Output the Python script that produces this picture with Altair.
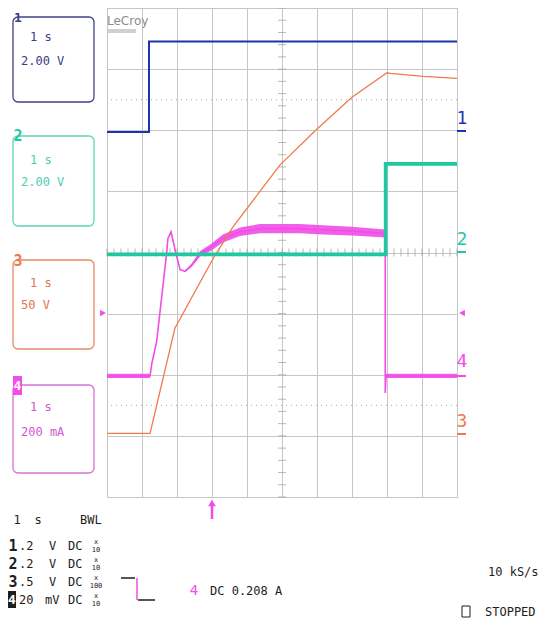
import altair as alt
import pandas as pd

# ---------------- waveform data (time: divisions 0-10, level: divisions 0-8) ----------------
ch1_t = [0, 1.2, 1.2, 10]
ch1_v = [5.97, 5.97, 7.45, 7.45]

ch2_t = [0, 7.96, 7.96, 10]
ch2_v = [3.97, 3.97, 5.45, 5.45]

ch3_t = [0, 1.23, 1.94, 3.04, 3.6, 4.57, 4.94, 6.0, 7.0, 8.0, 8.1, 9.03, 10]
ch3_v = [1.04, 1.04, 2.76, 3.91, 4.42, 5.15, 5.43, 6.02, 6.54, 6.94, 6.93, 6.88, 6.85]

ch4_t = [0, 1.23, 1.28, 1.42, 1.71, 1.74, 1.83, 1.97, 2.09, 2.23, 2.43, 2.66, 2.94,
         3.31, 3.8, 4.37, 5.51, 6.17, 7.0, 7.95, 7.95, 7.97, 10]
ch4_v = [1.98, 1.98, 2.18, 2.55, 4.02, 4.23, 4.34, 3.98, 3.72, 3.69, 3.80, 3.98, 4.07,
         4.23, 4.34, 4.39, 4.39, 4.37, 4.35, 4.31, 1.7, 1.98, 1.98]
ch4_noise = [0.035, 0.035, 0, 0, 0, 0, 0, 0, 0, 0.015, 0.03, 0.045, 0.055,
             0.065, 0.07, 0.075, 0.075, 0.075, 0.07, 0.065, 0, 0.035, 0.035]
ch4_seg = ["a", "a", "-", "-", "-", "-", "-", "-", "-", "b", "b", "b", "b",
           "b", "b", "b", "b", "b", "b", "b", "-", "c", "c"]

# grid
grid_x = list(range(11))
grid_y = list(range(9))
dotted_levels = [1.5, 6.5]
center_ticks_y = [round(i * 0.2, 2) for i in range(41)]
center_ticks_x = [round(i * 0.2, 2) for i in range(51)]

C1, C2, C3, C4 = "#1f32b0", "#1ec8a0", "#f07a4c", "#f04ee6"
B1, B2, B3, B4 = "#40408a", "#5cd4b8", "#e8886a", "#d872d8"
T1, T2, T3, T4 = "#3c3c86", "#4ccdb0", "#e07456", "#d05ad0"
INK = "#1e1e1e"
MONO = "DejaVu Sans Mono"

# page-pixel origin of the plot area
OX, OY = 107, 8

# ---------------- data-space layers ----------------
xs = alt.Scale(domain=[0, 10], nice=False, zero=False)
ys = alt.Scale(domain=[0, 8], nice=False, zero=False)
ax_x = alt.Axis(values=grid_x, grid=True, gridColor="#c6c6c6", gridWidth=1,
                labels=False, ticks=False, domain=False, title="")
ax_y = alt.Axis(values=grid_y, grid=True, gridColor="#c6c6c6", gridWidth=1,
                labels=False, ticks=False, domain=False, title="")


def X(f):
    return alt.X(f, scale=xs, axis=ax_x)


def Y(f):
    return alt.Y(f, scale=ys, axis=ax_y)


grid_df = pd.DataFrame({"t": [0, 10], "v": [0, 8]})
grid_layer = alt.Chart(grid_df).mark_point(opacity=0).encode(x=X("t:Q"), y=Y("v:Q"))

dot_df = pd.DataFrame({"v": dotted_levels})
dots = alt.Chart(dot_df).mark_rule(color="#a8a8a8", strokeDash=[1, 4], strokeWidth=1).encode(y=Y("v:Q"))

tv_df = pd.DataFrame({"t": [5] * len(center_ticks_y), "v": center_ticks_y})
ticks_v = alt.Chart(tv_df).mark_tick(orient="horizontal", size=8, thickness=1, color="#9a9a9a").encode(
    x=X("t:Q"), y=Y("v:Q"))
th_df = pd.DataFrame({"t": center_ticks_x, "v": [4] * len(center_ticks_x)})
ticks_h = alt.Chart(th_df).mark_tick(orient="vertical", size=8, thickness=1, color="#9a9a9a").encode(
    x=X("t:Q"), y=Y("v:Q"))


def trace(ts, vs, color, width):
    df = pd.DataFrame({"t": ts, "v": vs, "i": list(range(len(ts)))})
    return alt.Chart(df).mark_line(color=color, strokeWidth=width, interpolate="linear").encode(
        x=X("t:Q"), y=Y("v:Q"), order=alt.Order("i:Q"))


ch4_df = pd.DataFrame({"t": ch4_t, "v": ch4_v, "n": ch4_noise, "seg": ch4_seg})
band_df = ch4_df[ch4_df["seg"] != "-"].copy()
band_df["lo"] = band_df["v"] - band_df["n"]
band_df["hi"] = band_df["v"] + band_df["n"]
band = alt.Chart(band_df).mark_area(color=C4, opacity=0.9, orient="vertical").encode(
    x=X("t:Q"), y=Y("lo:Q"), y2="hi:Q", detail="seg:N")

data_layers = [grid_layer, dots, ticks_v, ticks_h,
               band, trace(ch4_t, ch4_v, C4, 1.6),
               trace(ch3_t, ch3_v, C3, 1.3),
               trace(ch2_t, ch2_v, C2, 3.6),
               trace(ch1_t, ch1_v, C1, 2.0)]

# ---------------- page decorations (pixel layout) ----------------
boxes = [  # x1, y1, x2, y2, stroke
    (13, 17, 94, 102, B1),
    (13, 136, 94, 226, B2),
    (13, 260, 94, 349, B3),
    (13, 385, 94, 473, B4),
]
box_df = pd.DataFrame(boxes, columns=["x1", "y1", "x2", "y2", "c"])
for a in ["x1", "x2"]:
    box_df[a] = box_df[a] - OX
for a in ["y1", "y2"]:
    box_df[a] = box_df[a] - OY
box_layer = alt.Chart(box_df).mark_rect(fillOpacity=0, cornerRadius=5, strokeWidth=1.3).encode(
    x=alt.X("x1:Q", scale=None), x2="x2:Q", y=alt.Y("y1:Q", scale=None), y2="y2:Q",
    stroke=alt.Stroke("c:N", scale=None))

filled = [  # inverse label blocks
    (13, 376, 22, 395, C4),
    (8, 591, 16, 608, INK),
]
fill_df = pd.DataFrame(filled, columns=["x1", "y1", "x2", "y2", "c"])
for a in ["x1", "x2"]:
    fill_df[a] = fill_df[a] - OX
for a in ["y1", "y2"]:
    fill_df[a] = fill_df[a] - OY
fill_layer = alt.Chart(fill_df).mark_rect(strokeWidth=0).encode(
    x=alt.X("x1:Q", scale=None), x2="x2:Q", y=alt.Y("y1:Q", scale=None), y2="y2:Q",
    color=alt.Color("c:N", scale=None))

square_df = pd.DataFrame({"x1": [462 - OX], "x2": [470 - OX], "y1": [606 - OY], "y2": [617 - OY]})
square_layer = alt.Chart(square_df).mark_rect(fillOpacity=0, stroke=INK, strokeWidth=1).encode(
    x=alt.X("x1:Q", scale=None), x2="x2:Q", y=alt.Y("y1:Q", scale=None), y2="y2:Q")

rules = [  # x1, y1, x2, y2, color, width
    (457, 131, 466, 131, C1, 2),      # ch1 level marker
    (457, 252, 466, 252, C2, 2),      # ch2 level marker
    (457, 376, 466, 376, C4, 2),      # ch4 level marker
    (457, 434, 466, 434, C3, 2),      # ch3 level marker
    (121, 578, 135, 578, INK, 1.5),   # trigger slope symbol
    (137, 578, 137, 600, C4, 1.5),
    (138, 600, 155, 600, INK, 1.5),
    (212, 504, 212, 519, C4, 2.5),    # trigger position arrow shaft
    (108, 30, 136, 30, "#a0a0a0", 1), # logo underline
    (108, 32, 136, 32, "#a0a0a0", 1),
]
rule_df = pd.DataFrame(rules, columns=["x1", "y1", "x2", "y2", "c", "w"])
for a in ["x1", "x2"]:
    rule_df[a] = rule_df[a] - OX
for a in ["y1", "y2"]:
    rule_df[a] = rule_df[a] - OY
rule_layer = alt.Chart(rule_df).mark_rule().encode(
    x=alt.X("x1:Q", scale=None), x2="x2:Q", y=alt.Y("y1:Q", scale=None), y2="y2:Q",
    color=alt.Color("c:N", scale=None), strokeWidth=alt.StrokeWidth("w:Q", scale=None))

tri = [  # x, y, shape, size
    (103, 313, "triangle-right", 45),
    (462, 313, "triangle-left", 45),
    (212, 503, "triangle-up", 60),
]
tri_df = pd.DataFrame(tri, columns=["x", "y", "shape", "s"])
tri_df["x"] = tri_df["x"] - OX
tri_df["y"] = tri_df["y"] - OY
tri_layer = alt.Chart(tri_df).mark_point(filled=True, opacity=1, color=C4).encode(
    x=alt.X("x:Q", scale=None), y=alt.Y("y:Q", scale=None),
    shape=alt.Shape("shape:N", scale=None), size=alt.Size("s:Q", scale=None))

texts = [  # text, x, y, color, size, weight, align, font
    # channel panels
    ("1 s", 30, 37, T1, 12, "normal", "left", MONO),
    ("2.00 V", 21, 61, T1, 12, "normal", "left", MONO),
    ("1 s", 30, 160, T2, 12, "normal", "left", MONO),
    ("2.00 V", 21, 182, T2, 12, "normal", "left", MONO),
    ("1 s", 30, 283, T3, 12, "normal", "left", MONO),
    ("50 V", 21, 305, T3, 12, "normal", "left", MONO),
    ("1 s", 30, 407, T4, 12, "normal", "left", MONO),
    ("200 mA", 21, 432, T4, 12, "normal", "left", MONO),
    ("1", 18, 18, B1, 13, "bold", "center", MONO),
    ("2", 18, 136, C2, 15, "bold", "center", MONO),
    ("3", 18, 261, C3, 15, "bold", "center", MONO),
    ("4", 17.5, 386, "#ffffff", 13, "bold", "center", MONO),
    # right-hand channel markers
    ("1", 462, 119, C1, 18, "normal", "center", MONO),
    ("2", 462, 240, C2, 18, "normal", "center", MONO),
    ("4", 462, 362, C4, 18, "normal", "center", MONO),
    ("3", 462, 422, C3, 18, "normal", "center", MONO),
    # logo
    ("LeCroy", 107, 21, "#8c8c8c", 12, "normal", "left", "DejaVu Sans"),
    # bottom status area
    ("1", 17, 520, INK, 12, "normal", "center", MONO),
    ("s", 38, 520, INK, 12, "normal", "center", MONO),
    ("BWL", 80, 520, INK, 12, "normal", "left", MONO),
    ("1", 13, 546, INK, 15, "bold", "center", MONO),
    ("2", 13, 564, INK, 15, "bold", "center", MONO),
    ("3", 13, 582, INK, 15, "bold", "center", MONO),
    ("4", 12, 600, "#ffffff", 13, "bold", "center", MONO),
    (".2", 19, 546, INK, 12, "normal", "left", MONO),
    (".2", 19, 564, INK, 12, "normal", "left", MONO),
    (".5", 19, 582, INK, 12, "normal", "left", MONO),
    ("20", 19, 600, INK, 12, "normal", "left", MONO),
    ("V", 49, 546, INK, 12, "normal", "left", MONO),
    ("V", 49, 564, INK, 12, "normal", "left", MONO),
    ("V", 49, 582, INK, 12, "normal", "left", MONO),
    ("mV", 45, 600, INK, 12, "normal", "left", MONO),
    ("DC", 68, 546, INK, 12, "normal", "left", MONO),
    ("DC", 68, 564, INK, 12, "normal", "left", MONO),
    ("DC", 68, 582, INK, 12, "normal", "left", MONO),
    ("DC", 68, 600, INK, 12, "normal", "left", MONO),
    ("x", 96, 542, INK, 7, "normal", "center", MONO),
    ("10", 96, 550, INK, 7, "normal", "center", MONO),
    ("x", 96, 560, INK, 7, "normal", "center", MONO),
    ("10", 96, 568, INK, 7, "normal", "center", MONO),
    ("x", 96, 578, INK, 7, "normal", "center", MONO),
    ("100", 96, 586, INK, 7, "normal", "center", MONO),
    ("x", 96, 596, INK, 7, "normal", "center", MONO),
    ("10", 96, 604, INK, 7, "normal", "center", MONO),
    ("4", 194, 591, C4, 14, "normal", "center", MONO),
    ("DC 0.208 A", 210, 591, INK, 12, "normal", "left", MONO),
    ("10 kS/s", 488, 572, INK, 12, "normal", "left", MONO),
    ("STOPPED", 485, 612, INK, 12, "normal", "left", MONO),
]
txt_df = pd.DataFrame(texts, columns=["text", "x", "y", "color", "size", "weight", "align", "font"])
txt_df["x"] = txt_df["x"] - OX
txt_df["y"] = txt_df["y"] - OY

text_layers = []
for (w, a, f), g in txt_df.groupby(["weight", "align", "font"]):
    text_layers.append(
        alt.Chart(g.reset_index(drop=True)).mark_text(
            font=f, fontWeight=w, align=a, baseline="middle").encode(
            x=alt.X("x:Q", scale=None), y=alt.Y("y:Q", scale=None), text="text:N",
            color=alt.Color("color:N", scale=None), size=alt.Size("size:Q", scale=None)))

chart = alt.layer(
    *data_layers, box_layer, fill_layer, square_layer, rule_layer, tri_layer, *text_layers
).properties(
    width=350, height=489,
    padding={"left": 99, "top": 0, "right": 83, "bottom": 122},
    autosize=alt.AutoSizeParams(type="none"),
    background="#ffffff",
).configure_view(stroke="#b4b4b4", strokeWidth=1)

chart.save("out.html", embed_options={"renderer": "svg", "actions": False})
